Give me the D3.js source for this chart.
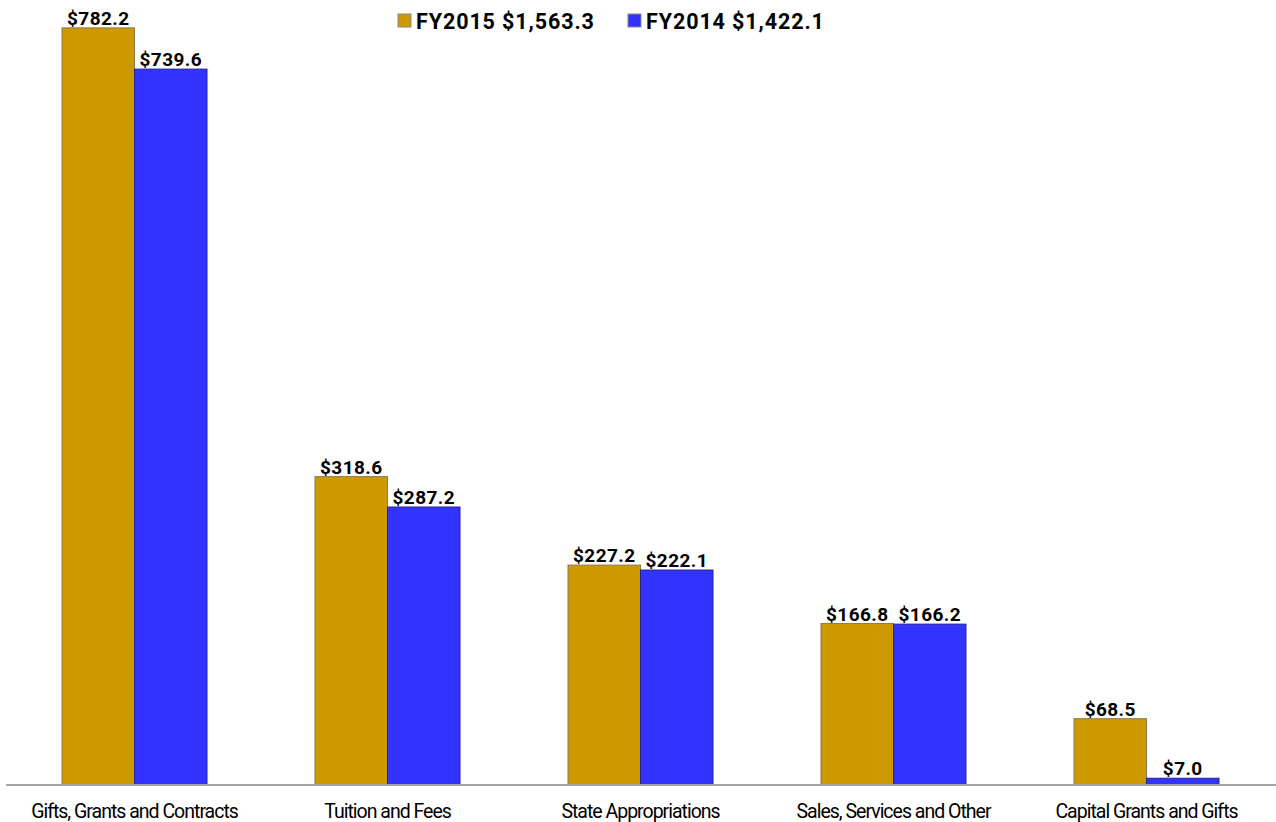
<!DOCTYPE html>
<html>
<head>
<meta charset="utf-8">
<script src="https://cdn.jsdelivr.net/npm/d3@7"></script>
<style>
  html, body { margin: 0; padding: 0; background: #fff; }
  svg { display: block; }
</style>
</head>
<body>
<svg id="chart" width="1276" height="822"></svg>
<script>
// Revenue by source, in millions of dollars
const categories = [
  "Gifts, Grants and Contracts",
  "Tuition and Fees",
  "State Appropriations",
  "Sales, Services and Other",
  "Capital Grants and Gifts"
];
const seriesNames = ["FY2015 $1,563.3", "FY2014 $1,422.1"];
const fy2015 = [782.2, 318.6, 227.2, 166.8, 68.5];
const fy2014 = [739.6, 287.2, 222.1, 166.2, 7.0];
const seriesColors = ["#CC9900", "#3333FF"];
const seriesStrokes = ["#8c7a4a", "#23239a"];

const W = 1276, H = 822;
const plot = { left: 8, right: 1273, baseline: 785 };
const svg = d3.select("#chart");

const x0 = d3.scaleBand()
  .domain(categories)
  .range([plot.left, plot.right]);

const groupWidth = 145;
const x1 = d3.scaleBand()
  .domain([0, 1])
  .range([0, groupWidth]);

const y = d3.scaleLinear()
  .domain([0, 811])
  .range([plot.baseline, 0]);

const rows = categories.map((c, i) => ({ cat: c, vals: [fy2015[i], fy2014[i]] }));

const groups = svg.selectAll("g.grp")
  .data(rows)
  .join("g")
  .attr("class", "grp")
  .attr("transform", d => `translate(${x0(d.cat) + x0.bandwidth() / 2 - groupWidth / 2},0)`);

groups.selectAll("rect")
  .data(d => d.vals.map((v, k) => ({ v, k })))
  .join("rect")
  .attr("x", d => x1(d.k))
  .attr("y", d => y(d.v))
  .attr("width", x1.bandwidth())
  .attr("height", d => y(0) - y(d.v))
  .attr("fill", d => seriesColors[d.k])
  .attr("stroke", d => seriesStrokes[d.k])
  .attr("stroke-width", 1);

groups.selectAll("text.val")
  .data(d => d.vals.map((v, k) => ({ v, k })))
  .join("text")
  .attr("class", "val")
  .attr("x", d => x1(d.k) + x1.bandwidth() / 2)
  .attr("y", d => y(d.v) - 3)
  .attr("text-anchor", "middle")
  .attr("font-family", "Roboto, 'Liberation Sans', sans-serif")
  .attr("font-weight", "bold")
  .attr("font-size", 19)
  .attr("letter-spacing", "0.4px")
  .attr("fill", "#000")
  .text(d => "$" + d.v.toFixed(1));

// Baseline axis with category labels
const axis = d3.axisBottom(x0).tickSize(0).tickPadding(19);
const gAxis = svg.append("g")
  .attr("transform", `translate(0,${y(0)})`)
  .call(axis);
gAxis.select(".domain").attr("stroke", "#a6a6a6").attr("stroke-width", 2)
  .attr("d", `M6,0H${W}`);
gAxis.selectAll("text")
  .attr("font-family", "Roboto, 'Liberation Sans', sans-serif")
  .attr("font-size", 19.5)
  .attr("letter-spacing", "-1px")
  .attr("fill", "#000");

// Legend
const legendX = [398, 628];
const legend = svg.append("g");
seriesNames.forEach((name, k) => {
  legend.append("rect")
    .attr("x", legendX[k]).attr("y", 14)
    .attr("width", 13).attr("height", 13)
    .attr("fill", seriesColors[k])
    .attr("stroke", "#888").attr("stroke-width", 1);
  legend.append("text")
    .attr("x", legendX[k] + 18).attr("y", 29)
    .attr("font-family", "Roboto, 'Liberation Sans', sans-serif")
    .attr("font-weight", "bold")
    .attr("font-size", 21.5)
    .attr("letter-spacing", "0.9px")
    .attr("fill", "#000")
    .text(name);
});
</script>
</body>
</html>
